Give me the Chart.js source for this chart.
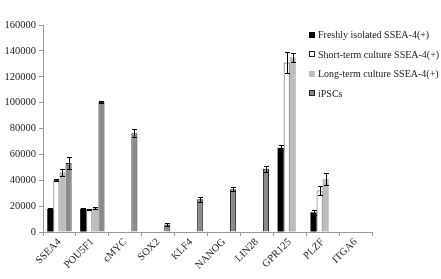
<!DOCTYPE html>
<html>
<head>
<meta charset="utf-8">
<script src="https://cdn.jsdelivr.net/npm/chart.js@4"></script>
<style>
  html, body { margin: 0; padding: 0; background: #fff; }
  #wrap { position: relative; width: 441px; height: 279px; }
  #legend { position: absolute; left: 309px; top: 25px; font-family: "Liberation Serif", serif; font-size: 10px; color: #222; }
  .item { height: 19.5px; display: flex; align-items: center; white-space: nowrap; }
  .box { width: 6px; height: 6px; margin-right: 3px; box-sizing: border-box; }
</style>
</head>
<body>
<div id="wrap">
  <canvas id="chart" width="441" height="279"></canvas>
  <div id="legend"></div>
</div>
<script>
const categories = ['SSEA4', 'POU5F1', 'cMYC', 'SOX2', 'KLF4', 'NANOG', 'LIN28', 'GPR125', 'PLZF', 'ITGA6'];
const yTicks = [0, 20000, 40000, 60000, 80000, 100000, 120000, 140000, 160000];

const fresh = [17800, 18000, null, null, null, null, null, 65000, 15200, null];
const freshErr = [700, 700, 0, 0, 0, 0, 0, 2000, 2000, 0];

const shortTerm = [40200, 17500, null, null, null, null, null, 131000, 32000, null];
const shortErr = [1000, 500, 0, 0, 0, 0, 0, 8000, 3500, 0];

const longTerm = [46000, 18500, null, null, null, null, null, 135000, 41000, null];
const longErr = [2500, 700, 0, 0, 0, 0, 0, 3500, 4500, 0];

const ipsc = [53300, 100400, 76300, 5800, 25300, 33000, 48800, null, null, null];
const ipscErr = [4500, 600, 3000, 800, 2000, 1500, 2500, 0, 0, 0];

const seriesNames = ['Freshly isolated SSEA-4(+)', 'Short-term culture SSEA-4(+)', 'Long-term culture SSEA-4(+)', 'iPSCs'];

const serif = '"Liberation Serif", "Times New Roman", serif';

// error bars drawn with the chart's own scales
const errorBars = {
    id: 'errorBars',
    afterDatasetsDraw(chart) {
        const ctx = chart.ctx;
        const yScale = chart.scales.y;
        ctx.save();
        ctx.strokeStyle = '#000';
        ctx.lineWidth = 1;
        chart.data.datasets.forEach((ds, i) => {
            const meta = chart.getDatasetMeta(i);
            meta.data.forEach((bar, j) => {
                const v = ds.data[j];
                const e = ds.errors[j];
                if (v == null || !e) return;
                const x = Math.round(bar.x) + 0.5;
                const top = Math.round(yScale.getPixelForValue(v + e)) + 0.5;
                const bot = Math.round(yScale.getPixelForValue(v - e)) + 0.5;
                ctx.beginPath();
                ctx.moveTo(x, top); ctx.lineTo(x, bot);
                ctx.moveTo(x - 2.5, top); ctx.lineTo(x + 2.5, top);
                ctx.moveTo(x - 2.5, bot); ctx.lineTo(x + 2.5, bot);
                ctx.stroke();
            });
        });
        ctx.restore();
    }
};

const datasets = [
    { label: seriesNames[0], data: fresh, errors: freshErr, backgroundColor: '#000000', borderColor: '#000000', borderWidth: 0 },
    { label: seriesNames[1], data: shortTerm, errors: shortErr, backgroundColor: '#ffffff', borderColor: '#555555', borderWidth: 1 },
    { label: seriesNames[2], data: longTerm, errors: longErr, backgroundColor: '#bdbdbd', borderColor: '#bdbdbd', borderWidth: 0 },
    { label: seriesNames[3], data: ipsc, errors: ipscErr, backgroundColor: '#8a8a8a', borderColor: '#222222', borderWidth: 1 }
];

new Chart(document.getElementById('chart'), {
    type: 'bar',
    data: { labels: categories, datasets: datasets },
    options: {
        responsive: false,
        animation: false,
        layout: { padding: { left: 0, right: 69, top: 25, bottom: 0 } },
        datasets: { bar: { categoryPercentage: 0.74, barPercentage: 1.0 } },
        plugins: { legend: { display: false }, tooltip: { enabled: false } },
        scales: {
            x: {
                grid: { drawOnChartArea: false, offset: true, tickLength: 4, color: '#999' },
                border: { color: '#999' },
                ticks: { minRotation: 45, maxRotation: 45, color: '#222', font: { family: serif, size: 10.5 }, padding: 0 },
                afterFit(scale) { scale.height = 47; }
            },
            y: {
                min: 0,
                max: 160000,
                afterBuildTicks(scale) { scale.ticks = yTicks.map(v => ({ value: v })); },
                grid: { drawOnChartArea: false, tickLength: 4, color: '#999' },
                border: { color: '#999' },
                ticks: { color: '#222', font: { family: serif, size: 10.5 }, padding: 3, callback: v => String(v) },
                afterFit(scale) { scale.width = 43; }
            }
        }
    },
    plugins: [errorBars]
});

// html legend
const legend = document.getElementById('legend');
datasets.forEach(ds => {
    const item = document.createElement('div');
    item.className = 'item';
    const box = document.createElement('span');
    box.className = 'box';
    box.style.background = ds.backgroundColor;
    box.style.border = '1px solid ' + (ds.borderWidth ? '#222' : ds.backgroundColor);
    const txt = document.createElement('span');
    txt.textContent = ds.label;
    item.appendChild(box);
    item.appendChild(txt);
    legend.appendChild(item);
});
</script>
</body>
</html>
